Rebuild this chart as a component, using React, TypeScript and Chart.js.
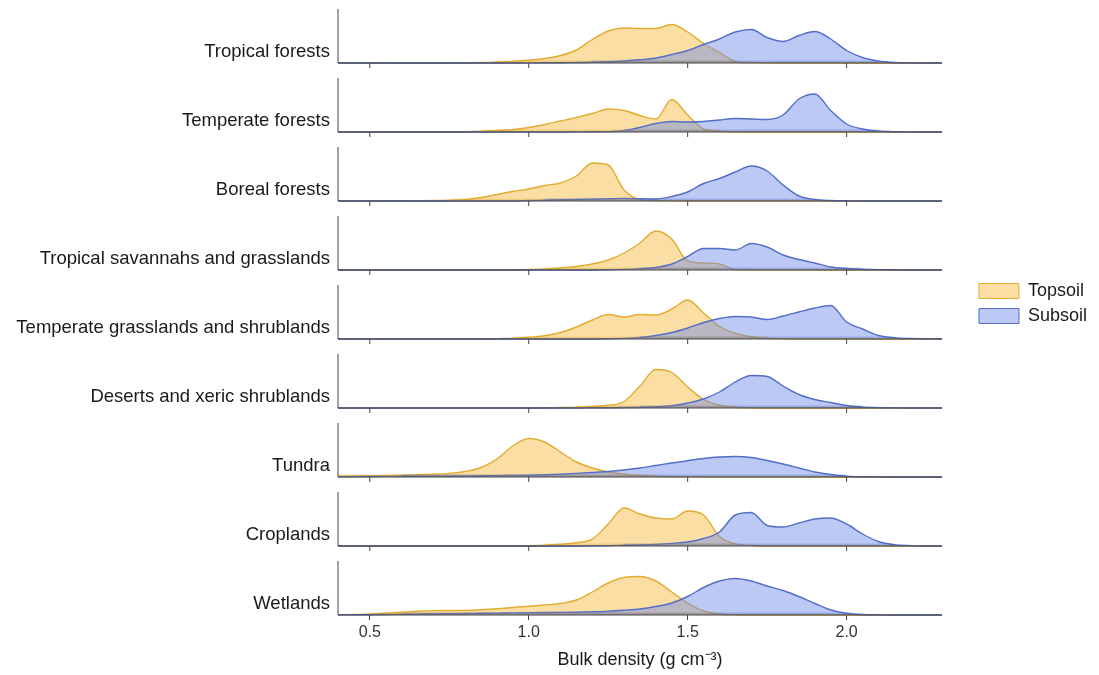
import { useEffect, useRef } from 'react';
import { Chart, registerables } from 'chart.js';

Chart.register(...registerables);

// ---------- data ----------
const X_GRID = [
  0.4, 0.45, 0.5, 0.55, 0.6, 0.65, 0.7, 0.75, 0.8, 0.85, 0.9, 0.95, 1.0, 1.05, 1.1, 1.15, 1.2, 1.25, 1.3, 1.35,
  1.4, 1.45, 1.5, 1.55, 1.6, 1.65, 1.7, 1.75, 1.8, 1.85, 1.9, 1.95, 2.0, 2.05, 2.1, 2.15, 2.2, 2.25, 2.3,
];

const ROW_NAMES = [
  'Tropical forests',
  'Temperate forests',
  'Boreal forests',
  'Tropical savannahs and grasslands',
  'Temperate grasslands and shrublands',
  'Deserts and xeric shrublands',
  'Tundra',
  'Croplands',
  'Wetlands',
];

const TICK_VALUES = [0.5, 1.0, 1.5, 2.0];
const TICK_LABELS = ['0.5', '1.0', '1.5', '2.0'];
const X_TITLE = 'Bulk density (g cm\u207B\u00B3)';
const SERIES_NAMES = ['Topsoil', 'Subsoil'];

// densities (row-scaled heights) on X_GRID
const TROP_FOREST_TOP = [0, 0, 0, 0.1, 0.2, 0.2, 0.3, 0.3, 0.4, 0.5, 1, 1.6, 2.7, 4.5, 7.5, 13, 23.5, 32, 35, 34.5, 34.5, 38.5, 31, 19.5, 10.5, 1.5, 0.4, 0.1, 0, 0, 0, 0, 0, 0, 0, 0, 0, 0, 0];
const TROP_FOREST_SUB = [0, 0, 0, 0, 0, 0, 0, 0, 0, 0, 0, 0, 0.1, 0.2, 0.3, 0.5, 0.7, 1.2, 2, 3.2, 5, 8.5, 12.5, 18.5, 24, 31, 33.5, 25.5, 21.5, 27.5, 31.5, 24, 12.5, 5.5, 2, 0.5, 0.1, 0, 0];
const TEMP_FOREST_TOP = [0, 0, 0, 0.1, 0.1, 0.2, 0.2, 0.3, 0.4, 0.8, 1.5, 2.3, 4.5, 7.5, 11, 14.5, 18.5, 23, 21.5, 16.5, 13, 32.5, 17, 3, 0.8, 0.2, 0, 0, 0, 0, 0, 0, 0, 0, 0, 0, 0, 0, 0];
const TEMP_FOREST_SUB = [0, 0, 0, 0, 0, 0, 0, 0, 0, 0, 0, 0, 0, 0, 0, 0.1, 0.2, 0.4, 1.5, 4.5, 8.5, 10.5, 10, 10.5, 12, 13.5, 13, 12.5, 17, 33, 38, 21.5, 8, 3, 1, 0.3, 0.1, 0, 0];
const BOREAL_TOP = [0, 0, 0.2, 0.2, 0.3, 0.4, 0.5, 0.8, 1.5, 3.5, 6.5, 9.5, 12, 15.5, 18, 25, 38, 36, 11, 1.5, 0.4, 0.1, 0, 0, 0, 0, 0, 0, 0, 0, 0, 0, 0, 0, 0, 0, 0, 0, 0];
const BOREAL_SUB = [0, 0, 0, 0, 0, 0, 0, 0, 0, 0, 0, 0, 0.5, 0.8, 1.2, 1.5, 1.8, 2.2, 2.6, 2.2, 2, 4.5, 9, 17.5, 22.5, 29, 35, 30, 16, 5, 1.5, 0.5, 0.2, 0, 0, 0, 0, 0, 0];
const SAVANNA_TOP = [0, 0, 0, 0, 0, 0, 0, 0, 0, 0, 0, 0.2, 0.5, 1, 2, 3.5, 6, 10, 17, 27, 39, 31, 9, 7, 6, 0.4, 0.1, 0, 0, 0, 0, 0, 0, 0, 0, 0, 0, 0, 0];
const SAVANNA_SUB = [0, 0, 0, 0, 0, 0, 0, 0, 0, 0, 0, 0, 0, 0, 0, 0, 0, 0.3, 0.6, 1.3, 2.5, 6, 13.5, 21.5, 21.5, 20, 26.5, 23, 15, 10.5, 7, 3, 1.5, 0.8, 0.4, 0.2, 0, 0, 0];
const TGRASS_TOP = [0, 0, 0, 0, 0, 0, 0, 0, 0, 0, 0.4, 0.8, 1.7, 3.2, 6.5, 12, 19, 24.5, 22, 24.5, 24, 30, 39, 26, 12.5, 5.5, 2.2, 0.8, 0.3, 0, 0, 0, 0, 0, 0, 0, 0, 0, 0];
const TGRASS_SUB = [0, 0, 0, 0, 0, 0, 0, 0, 0, 0, 0, 0, 0, 0, 0, 0, 0, 0.3, 0.6, 1.5, 3.5, 6.5, 11, 16.5, 20.5, 22.5, 22, 19.5, 23, 27, 31, 33.5, 17, 10, 3.5, 1.4, 0.6, 0.3, 0];
const DESERT_TOP = [0, 0, 0, 0, 0, 0, 0, 0, 0, 0, 0, 0, 0, 0.2, 0.5, 0.8, 1.5, 2.7, 6.5, 22, 38.5, 35.5, 21, 8.5, 2.7, 0.8, 0.2, 0, 0, 0, 0, 0, 0, 0, 0, 0, 0, 0, 0];
const DESERT_SUB = [0, 0, 0, 0, 0, 0, 0, 0, 0, 0, 0, 0, 0, 0, 0, 0, 0.2, 0.3, 0.5, 0.8, 1.2, 2.2, 5, 9, 16, 26, 32.5, 31.5, 22, 13.5, 8.5, 5.5, 2.5, 1, 0.4, 0.1, 0, 0, 0];
const TUNDRA_TOP = [0.8, 1, 1.2, 1.5, 1.8, 2.2, 2.8, 3.6, 5.5, 9.5, 18, 31, 38.5, 35, 25, 15, 9, 5, 3, 1.5, 0.7, 0.3, 0.1, 0, 0, 0, 0, 0, 0, 0, 0, 0, 0, 0, 0, 0, 0, 0, 0];
const TUNDRA_SUB = [0.3, 0.4, 0.5, 0.6, 0.7, 0.8, 0.9, 1, 1.1, 1.2, 1.4, 1.6, 1.8, 2.2, 2.8, 3.6, 4.5, 5.5, 7, 9, 11.5, 14, 16.3, 18.5, 20, 20.5, 19.5, 16.5, 13, 9, 5, 2.5, 0.9, 0.3, 0.1, 0, 0, 0, 0];
const CROP_TOP = [0, 0, 0, 0, 0, 0, 0, 0, 0, 0, 0, 0.1, 0.3, 0.8, 1.7, 3.2, 6.8, 22, 38, 32, 28, 27, 35, 31, 9.5, 2, 0.5, 0, 0, 0, 0, 0, 0, 0, 0, 0, 0, 0, 0];
const CROP_SUB = [0, 0, 0, 0, 0, 0, 0, 0, 0, 0, 0, 0, 0, 0, 0, 0, 0.2, 0.4, 0.7, 1, 1.6, 2.6, 4, 7.5, 14, 31, 33.5, 20.5, 19, 23, 27, 28, 22, 12, 4.5, 1.3, 0.4, 0, 0];
const WET_TOP = [0.3, 0.6, 1, 1.8, 2.8, 3.8, 4.4, 4.5, 4.6, 5.2, 6.2, 7.5, 8.8, 10, 11.5, 15, 23, 32, 37.5, 38.5, 34, 23, 12, 4, 1, 0.3, 0, 0, 0, 0, 0, 0, 0, 0, 0, 0, 0, 0, 0];
const WET_SUB = [0.1, 0.2, 0.3, 0.5, 0.7, 0.9, 1.1, 1.3, 1.5, 1.7, 1.9, 2.1, 2.3, 2.5, 2.6, 2.8, 3.2, 3.8, 4.8, 6, 8.5, 12, 18.5, 27.5, 34, 36.5, 34, 29, 24.5, 18.5, 11.5, 5, 1.8, 0.5, 0.2, 0, 0, 0, 0];

const TOPSOIL_ROWS = [TROP_FOREST_TOP, TEMP_FOREST_TOP, BOREAL_TOP, SAVANNA_TOP, TGRASS_TOP, DESERT_TOP, TUNDRA_TOP, CROP_TOP, WET_TOP];
const SUBSOIL_ROWS = [TROP_FOREST_SUB, TEMP_FOREST_SUB, BOREAL_SUB, SAVANNA_SUB, TGRASS_SUB, DESERT_SUB, TUNDRA_SUB, CROP_SUB, WET_SUB];

// ---------- styling ----------
const CANVAS_W = 1091;
const CANVAS_H = 667;
const X_MIN = 0.4;
const X_MAX = 2.3;
const ROW_STEP = 69;
const ROW_HEIGHT = 54;
const LABEL_OFFSET = 11;
const TICK_LEN = 5;
const RUG_MIN = 0.6;
const LEGEND_SHIFT = 30;
const Y_MAX = (ROW_NAMES.length - 1) * ROW_STEP + ROW_HEIGHT;

const TOP_FILL = 'rgba(247, 190, 72, 0.5)';
const TOP_LINE = 'rgb(226, 172, 48)';
const TOP_RUG = 'rgba(215, 160, 40, 0.28)';
const SUB_FILL = 'rgba(105, 135, 230, 0.45)';
const SUB_LINE = 'rgb(82, 110, 200)';
const SUB_RUG = 'rgba(70, 95, 190, 0.28)';
const AXIS_COLOR = '#444444';
const FONT = "'Liberation Sans', Arial, Helvetica, sans-serif";

const rowBase = (i: number) => (ROW_NAMES.length - 1 - i) * ROW_STEP;

function rugData(vals: number[], base: number) {
  return X_GRID.map((x, j) => ({ x, y: vals[j] > RUG_MIN ? base + 1.2 : null }));
}

function buildDatasets() {
  const ds: any[] = [];
  const n = ROW_NAMES.length;
  // axis pieces (drawn on top)
  for (let i = 0; i < n; i++) {
    const b = rowBase(i);
    ds.push({
      label: 'base-' + i,
      data: [{ x: X_MIN, y: b }, { x: X_MAX, y: b }],
      borderColor: AXIS_COLOR, borderWidth: 1.2, pointRadius: 0, fill: false, clip: false,
    });
    ds.push({
      label: 'vline-' + i,
      data: [{ x: X_MIN, y: b }, { x: X_MIN, y: b + ROW_HEIGHT }],
      borderColor: AXIS_COLOR, borderWidth: 1, pointRadius: 0, fill: false, clip: false,
    });
    if (i < n - 1) {
      ds.push({
        label: 'ticks-' + i,
        type: 'scatter',
        data: TICK_VALUES.map((v) => ({ x: v, y: b - TICK_LEN / 2 })),
        pointStyle: 'line', rotation: 90, radius: TICK_LEN / 2,
        borderColor: AXIS_COLOR, borderWidth: 1, backgroundColor: AXIS_COLOR, showLine: false, clip: false,
      });
    }
  }
  // rug strips
  for (let i = 0; i < n; i++) {
    const b = rowBase(i);
    ds.push({
      label: 'rug-sub-' + i,
      data: rugData(SUBSOIL_ROWS[i], b),
      borderColor: SUB_RUG, borderWidth: 2.5, pointRadius: 0, fill: false, spanGaps: false, clip: false,
    });
    ds.push({
      label: 'rug-top-' + i,
      data: rugData(TOPSOIL_ROWS[i], b),
      borderColor: TOP_RUG, borderWidth: 2.5, pointRadius: 0, fill: false, spanGaps: false, clip: false,
    });
  }
  // density curves
  for (let i = 0; i < n; i++) {
    const b = rowBase(i);
    ds.push({
      label: SERIES_NAMES[1] + ' - ' + ROW_NAMES[i],
      data: X_GRID.map((x, j) => ({ x, y: b + SUBSOIL_ROWS[i][j] })),
      borderColor: SUB_LINE, backgroundColor: SUB_FILL, borderWidth: 1.4,
      fill: { value: b }, pointRadius: 0, cubicInterpolationMode: 'monotone', clip: false,
    });
    ds.push({
      label: SERIES_NAMES[0] + ' - ' + ROW_NAMES[i],
      data: X_GRID.map((x, j) => ({ x, y: b + TOPSOIL_ROWS[i][j] })),
      borderColor: TOP_LINE, backgroundColor: TOP_FILL, borderWidth: 1.4,
      fill: { value: b }, pointRadius: 0, cubicInterpolationMode: 'monotone', clip: false,
    });
  }
  return ds;
}

// moves the legend box to the right of the space reserved for it
const legendShift = {
  id: 'legendShift',
  afterLayout(chart: any) {
    const l = chart.legend;
    if (l) {
      l.left += LEGEND_SHIFT;
      l.right += LEGEND_SHIFT;
    }
  },
};

export default function App() {
  const ref = useRef<HTMLCanvasElement>(null);
  useEffect(() => {
    document.documentElement.style.overflow = 'hidden';
    Chart.defaults.font.family = FONT;
    const chart = new Chart(ref.current as HTMLCanvasElement, {
      type: 'line',
      data: { datasets: buildDatasets() },
      plugins: [legendShift],
      options: {
        animation: false,
        responsive: false,
        devicePixelRatio: 1,
        events: [],
        layout: { autoPadding: false, padding: { left: 0, right: 32, top: 1, bottom: 0 } },
        scales: {
          x: {
            type: 'linear',
            min: X_MIN,
            max: X_MAX,
            afterBuildTicks: (s: any) => { s.ticks = TICK_VALUES.map((v) => ({ value: v })); },
            afterFit: (s: any) => { s.height = 60; s.paddingLeft = 0; s.paddingRight = 0; },
            ticks: {
              callback: (v: any) => TICK_LABELS[TICK_VALUES.indexOf(v)],
              font: { size: 16, family: FONT }, color: '#333333', padding: 3, maxRotation: 0, autoSkip: false,
            },
            grid: { display: true, drawOnChartArea: false, drawTicks: true, tickLength: TICK_LEN, color: AXIS_COLOR, lineWidth: 1 },
            border: { display: false },
            title: { display: true, text: X_TITLE, font: { size: 18, family: FONT }, color: '#1a1a1a', padding: { top: 4, bottom: 4 } },
          },
          y: {
            type: 'linear',
            min: 0,
            max: Y_MAX,
            bounds: 'data',
            afterFit: (s: any) => { s.width = 330; s.paddingTop = 0; s.paddingBottom = 0; },
            afterBuildTicks: (s: any) => { s.ticks = ROW_NAMES.map((_, i) => ({ value: rowBase(i) + LABEL_OFFSET })); },
            ticks: {
              autoSkip: false,
              padding: 8,
              font: { size: 18.5, family: FONT },
              color: '#1a1a1a',
              callback: (v: any) => {
                const i = ROW_NAMES.findIndex((_, k) => rowBase(k) + LABEL_OFFSET === v);
                return i >= 0 ? ROW_NAMES[i] : '';
              },
            },
            grid: { display: false, drawTicks: false },
            border: { display: false },
          },
        },
        plugins: {
          tooltip: { enabled: false },
          legend: {
            position: 'right',
            align: 'start',
            title: { display: true, text: '', padding: { top: 251.6, bottom: 0 } },
            labels: {
              boxWidth: 40,
              boxHeight: 15,
              padding: 7,
              font: { size: 18, family: FONT },
              color: '#1a1a1a',
              generateLabels: () => [
                { text: SERIES_NAMES[0], fillStyle: TOP_FILL, strokeStyle: TOP_LINE, lineWidth: 1, hidden: false, fontColor: '#1a1a1a' },
                { text: SERIES_NAMES[1], fillStyle: SUB_FILL, strokeStyle: SUB_LINE, lineWidth: 1, hidden: false, fontColor: '#1a1a1a' },
              ],
            },
          },
        },
      } as any,
    });
    return () => chart.destroy();
  }, []);
  return (
    <div style={{ width: CANVAS_W, height: CANVAS_H }}>
      <canvas ref={ref} width={CANVAS_W} height={CANVAS_H} style={{ display: 'block' }} />
    </div>
  );
}
